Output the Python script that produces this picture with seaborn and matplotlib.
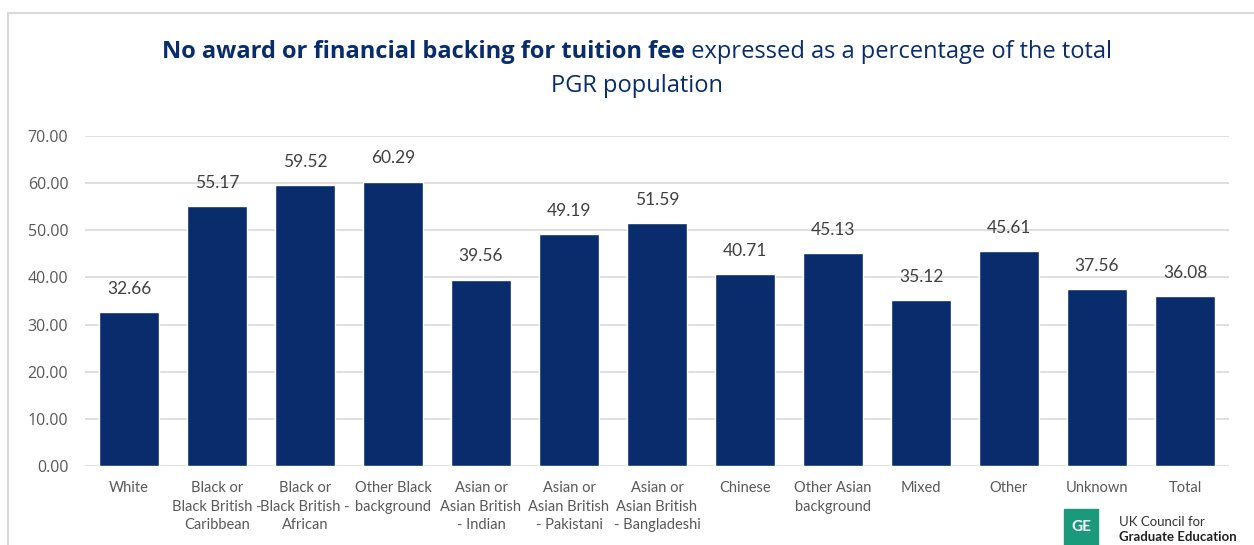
import matplotlib
matplotlib.use("Agg")
import matplotlib.pyplot as plt
import seaborn as sns
import pandas as pd
from matplotlib.patches import Rectangle

# chart data
categories = [
    "White",
    "Black or\nBlack British -\nCaribbean",
    "Black or\nBlack British -\nAfrican",
    "Other Black\nbackground",
    "Asian or\nAsian British\n- Indian",
    "Asian or\nAsian British\n- Pakistani",
    "Asian or\nAsian British\n- Bangladeshi",
    "Chinese",
    "Other Asian\nbackground",
    "Mixed",
    "Other",
    "Unknown",
    "Total",
]
percentages = [32.66, 55.17, 59.52, 60.29, 39.56, 49.19, 51.59, 40.71, 45.13, 35.12, 45.61, 37.56, 36.08]
y_ticks = [0, 10, 20, 30, 40, 50, 60, 70]

title_bold = "No award or financial backing for tuition fee"
title_rest = " expressed as a percentage of the total"
title_line2 = "PGR population"

NAVY = "#082C6C"
GREY_TEXT = "#595959"

sns.set_theme(style="white")
plt.rcParams["font.family"] = ["Lato", "DejaVu Sans"]

df = pd.DataFrame({"category": categories, "value": percentages})

fig = plt.figure(figsize=(12.54, 5.45), dpi=100)
ax = fig.add_axes([85 / 1254, 1 - 466 / 545, (1229 - 85) / 1254, (466 - 136) / 545])

sns.barplot(data=df, x="category", y="value", color=NAVY, width=0.68,
            saturation=1, ax=ax, zorder=3)

ax.set_ylim(0, 70)
ax.set_yticks(y_ticks)
ax.set_yticklabels([f"{v:.2f}" for v in y_ticks], color=GREY_TEXT, fontsize=11.5,
                   family=["Open Sans", "DejaVu Sans"])
ax.tick_params(axis="x", labelsize=10.5, colors=GREY_TEXT, length=0, pad=11)
ax.tick_params(axis="y", length=0, pad=12)
for lbl in ax.get_xticklabels():
    lbl.set_linespacing(1.4)
ax.set_xlabel("")
ax.set_ylabel("")
ax.yaxis.grid(True, color="#D9D9D9", linewidth=1.2, zorder=0)
for s in ax.spines.values():
    s.set_visible(False)

for patch, v in zip(ax.patches, percentages):
    ax.annotate(f"{v:.2f}", (patch.get_x() + patch.get_width() / 2, v),
                xytext=(0, 11), textcoords="offset points", ha="center", va="bottom",
                fontsize=12.5, color="#404040")

# frame around chart area
fig.patches.append(Rectangle((8 / 1254, -0.05), 1.2, 1 - 13 / 545 + 0.05,
                             transform=fig.transFigure, fill=False,
                             edgecolor="#D9D9D9", linewidth=1.5))

# two-part title on first line, centred
title_font = ["Open Sans", "DejaVu Sans"]
t1 = fig.text(0, 1 - 52 / 545, title_bold, fontsize=17, fontweight="bold",
              color=NAVY, va="center", ha="left", family=title_font)
t2 = fig.text(0, 1 - 52 / 545, title_rest, fontsize=17, color=NAVY,
              va="center", ha="left", family=title_font)
fig.canvas.draw()
r = fig.canvas.get_renderer()
w1 = t1.get_window_extent(r).width
w2 = t2.get_window_extent(r).width
x0 = 637 - (w1 + w2) / 2
t1.set_x(x0 / 1254)
t2.set_x((x0 + w1) / 1254)
fig.text(637 / 1254, 1 - 86 / 545, title_line2, fontsize=17, color=NAVY,
         va="center", ha="center", family=title_font)

# logo
fig.patches.append(Rectangle((1064 / 1254, 1 - 545 / 545), 34 / 1254, 36 / 545,
                             transform=fig.transFigure, color="#1A9A7A"))
fig.text(1081 / 1254, 1 - 527 / 545, "GE", fontsize=11, fontweight="bold",
         color="white", ha="center", va="center")
fig.text(1119 / 1254, 1 - 522 / 545, "UK Council for", fontsize=9.5,
         color="#333333", va="center")
fig.text(1119 / 1254, 1 - 537 / 545, "Graduate Education", fontsize=9.5,
         fontweight="bold", color="#222222", va="center")

fig.savefig("out.png", dpi=100)
